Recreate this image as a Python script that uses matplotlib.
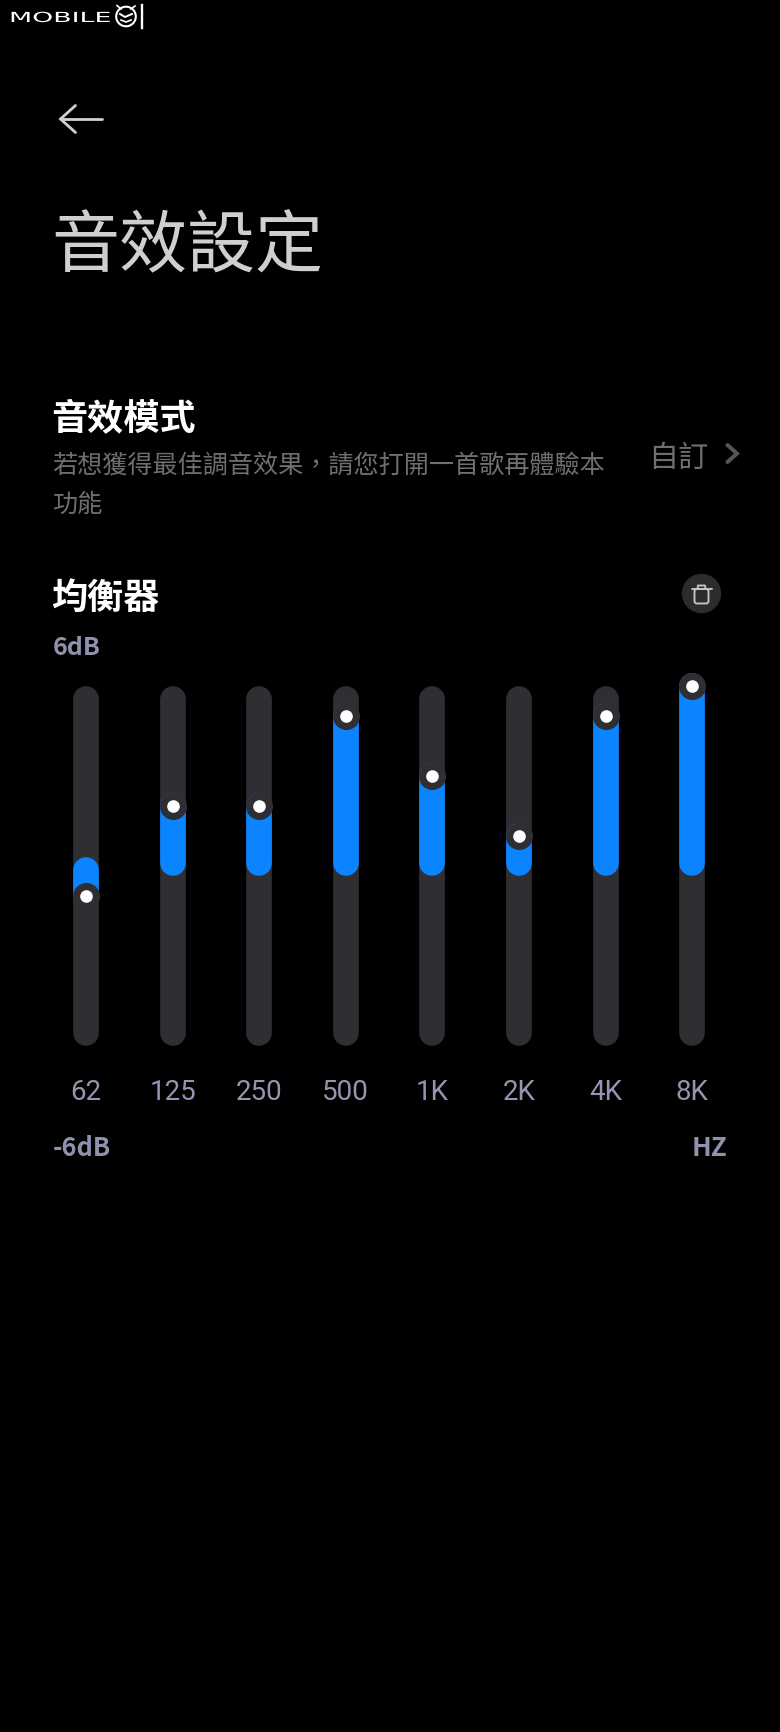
import matplotlib
matplotlib.use("Agg")
import matplotlib.pyplot as plt
from matplotlib.patches import Circle, FancyBboxPatch
from matplotlib.patheffects import AbstractPathEffect
from matplotlib.transforms import Affine2D

plt.rcParams['font.family'] = ['Noto Sans CJK TC', 'DejaVu Sans']

# ---- data ----
bands = ["62", "125", "250", "500", "1K", "2K", "4K", "8K"]
gains_db = [-1, 2, 2, 5, 3, 1, 5, 6]
track_top_db = 6.0
track_bottom_db = -6.0

BG = "#000000"
TRACK = "#2f2f33"
BLUE = "#0a84ff"
AXISTXT = "#8f91ad"
TICKTXT = "#9496b0"

W, H = 780, 1733
fig = plt.figure(figsize=(W / 100, H / 100), dpi=100, facecolor=BG)


class StretchX(AbstractPathEffect):
    def __init__(self, sx, x0):
        super().__init__()
        self.sx, self.x0 = sx, x0

    def draw_path(self, renderer, gc, tpath, affine, rgbFace=None):
        a = affine + Affine2D().translate(-self.x0, 0).scale(self.sx, 1).translate(self.x0, 0)
        renderer.draw_path(gc, tpath, a, rgbFace)


# ---- overlay in pixel coordinates ----
ov = fig.add_axes([0, 0, 1, 1], facecolor=BG)
ov.set_xlim(0, W)
ov.set_ylim(H, 0)
ov.axis("off")

# ---- equaliser axes: x = band index, y = dB ----
x0_px, dx_px = 86.0, 86.6
zero_px, db_px = 867.3, 30.0
left = x0_px - 0.5 * dx_px
right = x0_px + 7.5 * dx_px
top_px = zero_px - 7 * db_px
bot_px = zero_px + 7 * db_px
ax = fig.add_axes([left / W, 1 - bot_px / H, (right - left) / W, (bot_px - top_px) / H])
ax.patch.set_alpha(0)
ax.set_xlim(-0.5, 7.5)
ax.set_ylim(-7, 7)
for s in ax.spines.values():
    s.set_visible(False)
ax.set_yticks([])
ax.set_xticks(range(len(bands)))
ax.set_xticklabels(bands, fontsize=20, color=TICKTXT, family=["Roboto", "DejaVu Sans"])
ax.tick_params(axis="x", length=0, pad=1.0)

px = 0.72  # points per pixel at dpi 100
track_w = 25.7 * px
cap_db = (track_w / px / 2) / db_px
for i, g in enumerate(gains_db):
    ax.plot([i, i], [track_top_db - cap_db, track_bottom_db + cap_db], color=TRACK,
            lw=track_w, solid_capstyle="round", zorder=1)
    base = 0.11 if g > 0 else -0.11
    ax.plot([i, i], [base, g], color=BLUE, lw=track_w, solid_capstyle="round", zorder=2)
ax.plot(range(8), gains_db, ls="none", marker="o", ms=27 * px, mfc=TRACK, mec="none", zorder=3)
ax.plot(range(8), gains_db, ls="none", marker="o", ms=12.6 * px, mfc="white", mec="none", zorder=4)

# ---- logo ----
ov.text(9, 23, "MOBILE", color="white", fontsize=10, family=["DejaVu Sans"], va="baseline",
        fontweight="normal", path_effects=[StretchX(1.93, 9)])
ov.add_patch(Circle((126, 17.5), 9.8, fc="none", ec="white", lw=1.5))
ov.plot([117, 121], [6.5, 10], color="white", lw=1.2)
ov.plot([135, 131], [7, 10], color="white", lw=1.2)
ov.plot([120, 125, 132], [15, 18, 15], color="white", lw=1.4)
ov.plot([121, 126, 131], [21, 23, 21], color="white", lw=1.2)
ov.plot([141.5, 141.5], [6, 29], color="white", lw=1.7)

# ---- back arrow ----
ov.plot([61, 101.5], [120, 120], color="#cfcfcf", lw=2.8 * px, solid_capstyle="round")
ov.plot([75.5, 60.5, 75.5], [106.5, 120, 133.5], color="#cfcfcf", lw=2.8 * px,
        solid_capstyle="round", solid_joinstyle="miter")

# ---- headings ----
ov.text(51.5, 247, "音效設定", color="#cfcfcf", fontsize=49, va="center", ha="left")
ov.text(51.5, 419, "音效模式", color="white", fontsize=26, fontweight="bold", va="center")
ov.text(52, 466, "若想獲得最佳調音效果\uff0c請您打開一首歌再體驗本", color="#6f6f6f", fontsize=18.1, va="center")
ov.text(52, 505, "功能", color="#6f6f6f", fontsize=18.1, va="center")
ov.text(648, 458, "自訂", color="#6f6f6f", fontsize=21.7, va="center")
ov.plot([727.5, 737, 727.5], [446, 454.5, 463], color="#555555", lw=4 * px,
        solid_capstyle="round", solid_joinstyle="miter")
ov.text(51.5, 598, "均衡器", color="white", fontsize=26, fontweight="bold", va="center")

# ---- trash button ----
ov.add_patch(Circle((701.5, 594.5), 19.7, fc="#2c2c2e", ec="none"))
ic = "#c4c4c4"
ov.plot([691.5, 711.5], [590, 590], color=ic, lw=1.9 * px, solid_capstyle="round")
ov.plot([697.5, 698, 705, 705.5], [590, 586.5, 586.5, 590], color=ic, lw=1.9 * px)
ov.add_patch(FancyBboxPatch((694.5, 590), 14, 14.5, boxstyle="round,pad=0,rounding_size=2.5",
                            fc="none", ec=ic, lw=1.9 * px))

# ---- range labels ----
ov.text(53, 648, "6dB", color=AXISTXT, fontsize=18, fontweight="bold", va="center")
ov.text(53, 1149, "-6dB", color=AXISTXT, fontsize=18.3, fontweight="bold", va="center")
ov.text(727, 1149, "HZ", color=AXISTXT, fontsize=18.8, fontweight="bold", va="center", ha="right")

fig.savefig("out.png", dpi=100, facecolor=BG)
